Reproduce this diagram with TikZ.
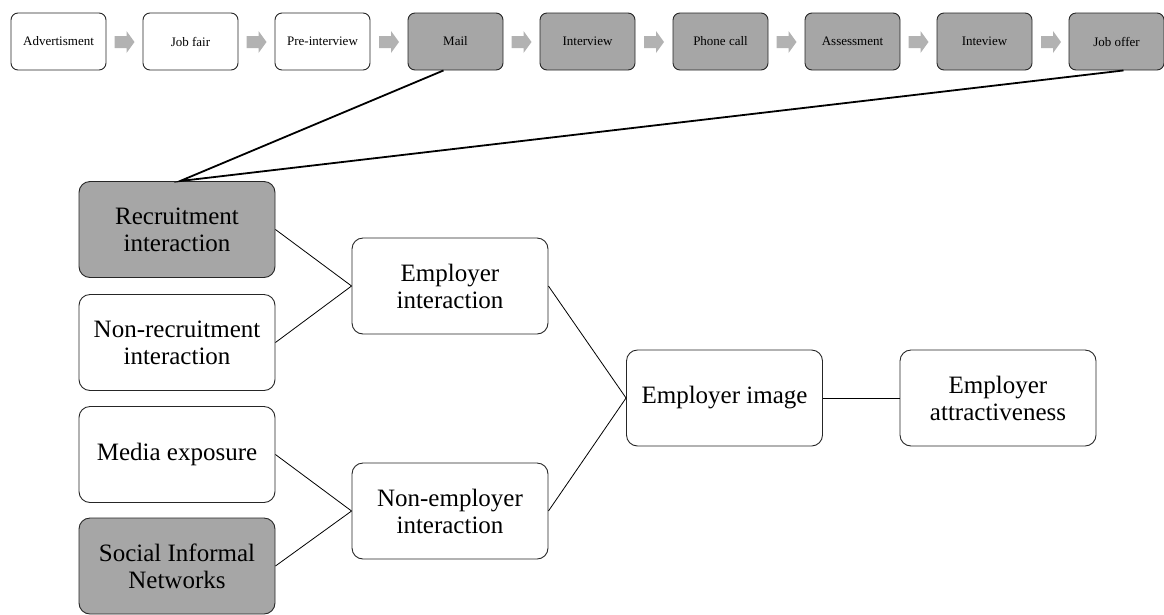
\documentclass[tikz,border=0pt]{standalone}
\usepackage{fontspec}
\setmainfont{Liberation Serif}
\begin{document}
\begin{tikzpicture}[x=1pt,y=-1pt,
  small/.style={draw=black!85, line width=0.9pt, rounded corners=7pt, minimum width=95pt, minimum height=57pt, inner sep=0pt, font=\fontsize{13}{15}\selectfont, align=center},
  big/.style={draw=black!85, line width=0.9pt, rounded corners=11pt, minimum width=196pt, minimum height=96pt, inner sep=0pt, font=\fontsize{25}{27}\selectfont, align=center},
  grayfill/.style={fill=gray!70},
  link/.style={line width=0.8pt},
  toplink/.style={line width=1.8pt},
  flowarrow/.style={fill=gray!60, draw=none}]
\useasboundingbox (0,0) rectangle (1164,614);
% top row
\node[small] (t1) at (58.5,41.5) {Advertisment};
\node[small] (t2) at (190.5,41.5) {Job fair};
\node[small] (t3) at (322.5,41.5) {Pre-interview};
\node[small,grayfill] (t4) at (455.5,41.5) {Mail};
\node[small,grayfill] (t5) at (587.5,41.5) {Interview};
\node[small,grayfill] (t6) at (720.5,41.5) {Phone call};
\node[small,grayfill] (t7) at (852.5,41.5) {Assessment};
\node[small,grayfill] (t8) at (984.5,41.5) {Inteview};
\node[small,grayfill] (t9) at (1116.5,41.5) {Job offer};
\foreach \cx in {124.5,256.5,389,521.5,654,786.5,918.5,1051}{
  \fill[flowarrow] (\cx-10,36) -- (\cx+2,36) -- (\cx+2,31) -- (\cx+10,42) -- (\cx+2,53) -- (\cx+2,48) -- (\cx-10,48) -- cycle;
}
% lower nodes
\node[big,grayfill] (rec) at (177,229.5) {Recruitment\\interaction};
\node[big] (nrec) at (177,342.5) {Non-recruitment\\interaction};
\node[big] (med) at (177,454.5) {Media exposure};
\node[big,grayfill] (soc) at (177,566) {Social Informal\\Networks};
\node[big] (ei) at (450,286) {Employer\\interaction};
\node[big] (nei) at (450,511) {Non-employer\\interaction};
\node[big] (img) at (724.5,398) {Employer image};
\node[big] (att) at (998,398) {Employer\\attractiveness};
% connectors
\coordinate (mailpt) at ([xshift=-12pt]t4.south);
\coordinate (offerpt) at ([xshift=7pt]t9.south);
\draw[toplink] (mailpt) -- ([xshift=3pt]rec.north) -- (offerpt);
\draw[link] (rec.east) -- (ei.west);
\draw[link] (nrec.east) -- (ei.west);
\draw[link] (med.east) -- (nei.west);
\draw[link] (soc.east) -- (nei.west);
\draw[link] (ei.east) -- (img.west);
\draw[link] (nei.east) -- (img.west);
\draw[link] (img.east) -- (att.west);
\end{tikzpicture}
\end{document}
